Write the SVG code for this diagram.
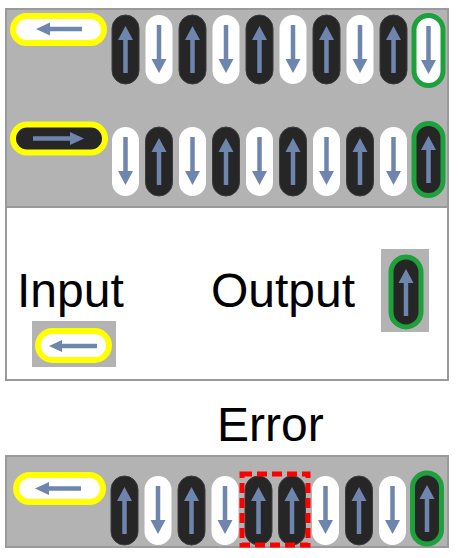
<svg xmlns="http://www.w3.org/2000/svg" xmlns:xlink="http://www.w3.org/1999/xlink" width="458" height="558" viewBox="0 0 458 558">
<style>
.panel{fill:#b3b3b3;stroke:#9a9a9a;stroke-width:2}
.wpanel{fill:#ffffff;stroke:#9a9a9a;stroke-width:2}
.blk{fill:#262626;stroke:#3c3c3c;stroke-width:1}
.wht{fill:#ffffff}
.shaft{stroke:#6e86ae;stroke-width:4.5;fill:none}
.head{fill:#6e86ae}
.yel{stroke:#ffff00;stroke-width:6}
.grn{stroke:#1ea03c;stroke-width:5}
.err{fill:none;stroke:#ff0000;stroke-width:5;stroke-dasharray:10 5}
.lbl{font-family:"Liberation Sans",Arial,sans-serif;font-size:48px;fill:#000}
</style>
<defs>
<g id="blackUp">
<rect class="blk" x="0" y="0" width="27" height="69" rx="13.5"/>
<line class="shaft" x1="13.5" y1="58" x2="13.5" y2="22"/>
<polygon class="head" points="13.5,11 6,25 21,25"/>
</g>
<g id="whiteDown">
<rect class="wht" x="0" y="0" width="27" height="69" rx="13.5"/>
<line class="shaft" x1="13.5" y1="10" x2="13.5" y2="47"/>
<polygon class="head" points="13.5,58 6,44 21,44"/>
</g>
<g id="arrUp">
<line class="shaft" x1="13.5" y1="58" x2="13.5" y2="22"/>
<polygon class="head" points="13.5,11 6,25 21,25"/>
</g>
<g id="arrDown">
<line class="shaft" x1="13.5" y1="10" x2="13.5" y2="47"/>
<polygon class="head" points="13.5,58 6,44 21,44"/>
</g>
</defs>

<!-- panels -->
<rect class="wpanel" x="6" y="9" width="442" height="371"/>
<rect class="panel" x="6" y="9" width="442" height="198"/>
<rect class="panel" x="6" y="456" width="442" height="91"/>

<!-- Row 1 -->
<g id="r1-input">
<rect class="wht yel" x="13" y="16" width="91" height="27" rx="13.5"/>
<line class="shaft" x1="48" y1="29" x2="82" y2="29"/>
<polygon class="head" points="36,29 50,22.5 50,35.5"/>
</g>
<g id="r1-0"><use xlink:href="#blackUp" x="112" y="15"/></g>
<g id="r1-1"><use xlink:href="#whiteDown" x="145.5" y="15"/></g>
<g id="r1-2"><use xlink:href="#blackUp" x="179" y="15"/></g>
<g id="r1-3"><use xlink:href="#whiteDown" x="212.5" y="15"/></g>
<g id="r1-4"><use xlink:href="#blackUp" x="246" y="15"/></g>
<g id="r1-5"><use xlink:href="#whiteDown" x="279.5" y="15"/></g>
<g id="r1-6"><use xlink:href="#blackUp" x="313" y="15"/></g>
<g id="r1-7"><use xlink:href="#whiteDown" x="346.5" y="15"/></g>
<g id="r1-8"><use xlink:href="#blackUp" x="380" y="15"/></g>
<g id="r1-out">
<rect class="wht grn" x="414" y="15.5" width="29" height="70" rx="14.5"/>
<use xlink:href="#arrDown" x="415" y="16"/>
</g>

<!-- Row 2 -->
<g id="r2-input">
<rect class="blk yel" x="13" y="124.5" width="92" height="28" rx="14"/>
<line class="shaft" x1="33" y1="138.5" x2="72" y2="138.5"/>
<polygon class="head" points="84,138.5 70,132 70,145"/>
</g>
<g id="r2-0"><use xlink:href="#whiteDown" x="112" y="127"/></g>
<g id="r2-1"><use xlink:href="#blackUp" x="145.5" y="127"/></g>
<g id="r2-2"><use xlink:href="#whiteDown" x="179" y="127"/></g>
<g id="r2-3"><use xlink:href="#blackUp" x="212.5" y="127"/></g>
<g id="r2-4"><use xlink:href="#whiteDown" x="246" y="127"/></g>
<g id="r2-5"><use xlink:href="#blackUp" x="279.5" y="127"/></g>
<g id="r2-6"><use xlink:href="#whiteDown" x="313" y="127"/></g>
<g id="r2-7"><use xlink:href="#blackUp" x="346.5" y="127"/></g>
<g id="r2-8"><use xlink:href="#whiteDown" x="380" y="127"/></g>
<g id="r2-out">
<rect class="blk grn" x="414" y="123.5" width="29" height="72" rx="14.5"/>
<use xlink:href="#arrUp" x="415" y="125"/>
</g>

<!-- Legend -->
<text class="lbl" x="17" y="307">Input</text>
<text class="lbl" x="211" y="307">Output</text>
<g id="legend-input">
<rect x="32" y="321" width="84" height="46" fill="#b3b3b3"/>
<rect class="wht yel" x="38" y="331" width="71" height="29" rx="14.5"/>
<line class="shaft" x1="60" y1="346" x2="97" y2="346"/>
<polygon class="head" points="49,346 62,340 62,352"/>
</g>
<g id="legend-output">
<rect x="381" y="249" width="48" height="83" fill="#b3b3b3"/>
<rect class="blk grn" x="391" y="257" width="30" height="70" rx="15"/>
<use xlink:href="#arrUp" x="392.5" y="258"/>
</g>

<!-- Error -->
<text class="lbl" x="217" y="441">Error</text>
<g id="e-input">
<rect class="wht yel" x="16" y="475" width="87" height="27" rx="13.5"/>
<line class="shaft" x1="47" y1="488.5" x2="81" y2="488.5"/>
<polygon class="head" points="35,488.5 49,482 49,495"/>
</g>
<g id="e-0"><use xlink:href="#blackUp" x="111" y="476"/></g>
<g id="e-1"><use xlink:href="#whiteDown" x="144.5" y="476"/></g>
<g id="e-2"><use xlink:href="#blackUp" x="178" y="476"/></g>
<g id="e-3"><use xlink:href="#whiteDown" x="211.5" y="476"/></g>
<g id="e-4"><use xlink:href="#blackUp" x="245" y="476"/></g>
<g id="e-5"><use xlink:href="#blackUp" x="278.5" y="476"/></g>
<g id="e-6"><use xlink:href="#whiteDown" x="312" y="476"/></g>
<g id="e-7"><use xlink:href="#blackUp" x="345.5" y="476"/></g>
<g id="e-8"><use xlink:href="#whiteDown" x="379" y="476"/></g>
<g id="e-out">
<rect class="blk grn" x="412.5" y="473" width="29" height="71" rx="14.5"/>
<use xlink:href="#arrUp" x="413.5" y="474"/>
</g>
<g id="e-mark">
<rect class="err" x="242" y="474" width="66" height="71"/>
</g>
</svg>
